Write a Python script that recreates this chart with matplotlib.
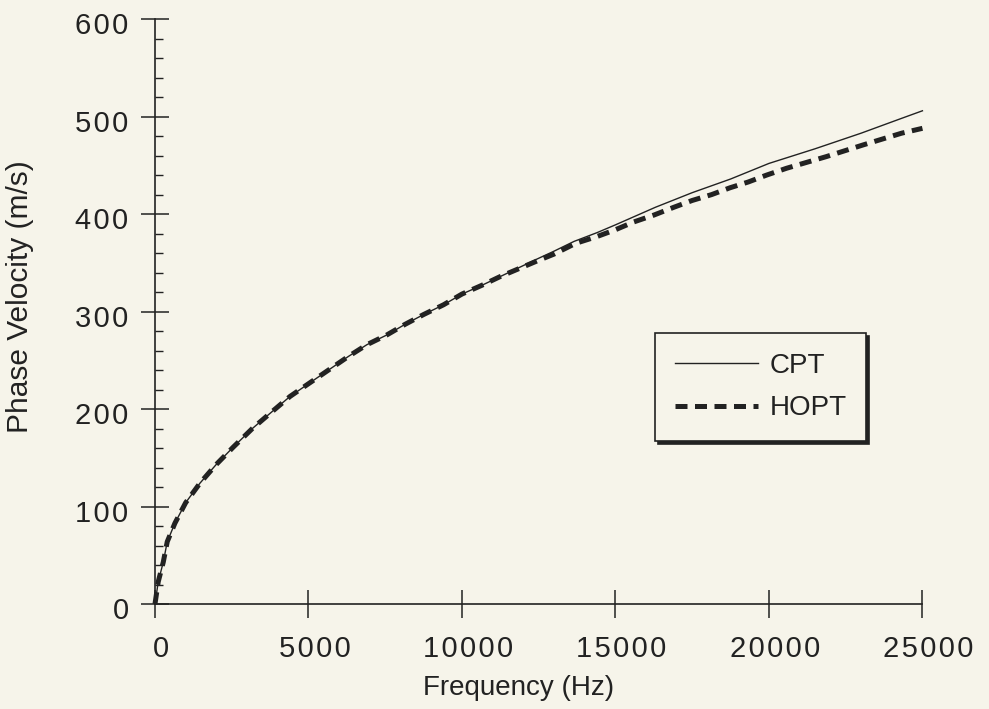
import matplotlib
matplotlib.use("Agg")
import matplotlib.pyplot as plt
from matplotlib.ticker import MultipleLocator, FuncFormatter
from matplotlib.transforms import ScaledTranslation

# values
freq_cpt = [0, 107, 270, 400, 650, 1000, 1465, 1990, 2550, 3170, 3800, 4400,
            5000, 5650, 6300, 6900, 7550, 8150, 8750, 9400, 10000, 10650,
            11250, 11850, 12450, 13000, 13650, 14400, 15000, 16300, 17500,
            18750, 20000, 21500, 23000, 24300, 25000]
vel_cpt = [0, 23, 43, 64, 83, 104, 124, 143, 161, 180, 197, 213,
           226, 240, 254, 266, 276, 287, 297, 307, 318, 327,
           336, 345, 354, 362, 372, 381, 389, 407, 422,
           436, 452, 467, 483, 498, 506]

freq_hopt = [0, 107, 270, 400, 650, 1000, 1465, 1990, 2550, 3170, 3800, 4400,
             5000, 5650, 6300, 6900, 7550, 8150, 8750, 9400, 10000, 10650,
             11250, 11850, 12450, 13000, 13700, 14400, 15000, 15600, 16250,
             16900, 17500, 18130, 18730, 19330, 19920, 20570, 21870, 23070,
             24320, 25000]
vel_hopt = [0, 23, 43, 64, 83, 104, 124, 143, 161, 180, 197, 213,
            226, 240, 254, 266, 276, 287, 297, 307, 318, 327,
            336, 344, 352, 359, 370, 377, 384, 392, 399,
            407, 414, 420, 427, 433, 440, 447, 459, 471,
            483, 488]

bg = "#f6f4ea"
ink = "#222222"

plt.rcParams['font.family'] = ['Liberation Sans', 'DejaVu Sans']

fig = plt.figure(figsize=(9.89, 7.09), dpi=100, facecolor=bg)
ax = fig.add_axes([0.1567, 0.148, 0.776, 0.825])
ax.set_facecolor(bg)

ax.plot(freq_cpt, vel_cpt, color=ink, lw=1.0, label='CPT', clip_on=False)
ax.plot(freq_hopt, vel_hopt, color=ink, lw=3.6, dashes=(2.4, 1.5),
        label='HOPT', clip_on=False)

ax.set_xlim(0, 25000)
ax.set_ylim(0, 600)
for s in ['top', 'right']:
    ax.spines[s].set_visible(False)
for s in ['left', 'bottom']:
    ax.spines[s].set_color(ink)
    ax.spines[s].set_linewidth(1.2)

ax.xaxis.set_major_locator(MultipleLocator(5000))
ax.yaxis.set_major_locator(MultipleLocator(100))
ax.yaxis.set_minor_locator(MultipleLocator(20))

# wide-set digits like the original typesetting
spaced = FuncFormatter(lambda v, p: '\u200a'.join(str(int(v))))
ax.xaxis.set_major_formatter(spaced)
ax.yaxis.set_major_formatter(spaced)

ax.tick_params(which='major', direction='inout', length=20, width=1.1,
               color=ink, labelsize=21, labelcolor=ink)
ax.tick_params(axis='y', which='major', pad=9)
ax.tick_params(axis='x', which='major', pad=12)
ax.tick_params(axis='y', which='minor', direction='in', length=6,
               width=1.0, color=ink)

# the original labels sit a little right of / below their ticks
shift_x = ScaledTranslation(6 / 100, 0, fig.dpi_scale_trans)
shift_y = ScaledTranslation(0, -4 / 100, fig.dpi_scale_trans)
for lab in ax.get_xticklabels():
    lab.set_transform(lab.get_transform() + shift_x)
for lab in ax.get_yticklabels():
    lab.set_transform(lab.get_transform() + shift_y)

ax.set_xlabel('Frequency (Hz)', fontsize=20, color=ink)
ax.set_ylabel('Phase Velocity (m/s)', fontsize=21.5, color=ink)
ax.xaxis.set_label_coords(0.474, -0.122)
ax.yaxis.set_label_coords(-0.158, 0.525)

leg = ax.legend(loc='upper left', bbox_to_anchor=(0.652, 0.463),
                fontsize=20, frameon=True, fancybox=False,
                shadow={'color': ink, 'alpha': 1.0},
                handlelength=3.0, handletextpad=0.4, labelspacing=0.6,
                borderpad=0.7, borderaxespad=0)
leg.get_frame().set_edgecolor(ink)
leg.get_frame().set_linewidth(1.2)
leg.get_frame().set_facecolor(bg)
for t in leg.get_texts():
    t.set_color(ink)

fig.savefig('out.png', dpi=100, facecolor=bg)
